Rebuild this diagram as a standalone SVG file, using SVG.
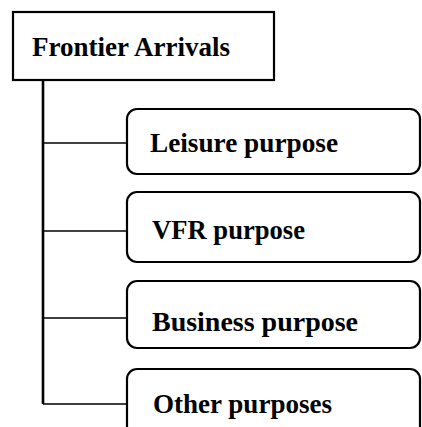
<svg xmlns="http://www.w3.org/2000/svg" width="422" height="427" viewBox="0 0 422 427">
  <style>
    .box { fill: #ffffff; stroke: #000000; stroke-width: 2.2; }
    .label { font-family: "Liberation Serif", "Times New Roman", serif; font-weight: bold; font-size: 27.5px; fill: #000000; }
    .link { stroke: #000000; stroke-width: 1.6; fill: none; }
    .trunk { stroke: #000000; stroke-width: 2.6; fill: none; }
  </style>
  <rect width="422" height="427" fill="#ffffff"/>

  <!-- tree connectors: trunk from the root box and one branch per purpose -->
  <g id="connectors">
    <line class="trunk" x1="43" y1="80" x2="43" y2="404"/>
    <line class="link" x1="43" y1="143" x2="127" y2="143"/>
    <line class="link" x1="43" y1="231" x2="127" y2="231"/>
    <line class="link" x1="43" y1="318" x2="127" y2="318"/>
    <line class="link" x1="43" y1="404" x2="127" y2="404"/>
  </g>

  <g id="frontier-arrivals">
    <rect class="box" x="13" y="12" width="261" height="68"/>
    <text class="label" x="32" y="56" textLength="198" lengthAdjust="spacingAndGlyphs">Frontier Arrivals</text>
  </g>

  <g id="leisure-purpose">
    <rect class="box" x="127" y="109" width="293" height="65" rx="10" ry="10"/>
    <text class="label" x="150" y="152" textLength="188" lengthAdjust="spacingAndGlyphs">Leisure purpose</text>
  </g>

  <g id="vfr-purpose">
    <rect class="box" x="127" y="192" width="293" height="70" rx="10" ry="10"/>
    <text class="label" x="152" y="239" textLength="153" lengthAdjust="spacingAndGlyphs">VFR purpose</text>
  </g>

  <g id="business-purpose">
    <rect class="box" x="127" y="281" width="293" height="67" rx="10" ry="10"/>
    <text class="label" x="152" y="331" textLength="206" lengthAdjust="spacingAndGlyphs">Business purpose</text>
  </g>

  <g id="other-purposes">
    <rect class="box" x="127" y="369" width="293" height="80" rx="10" ry="10"/>
    <text class="label" x="153" y="413" textLength="179" lengthAdjust="spacingAndGlyphs">Other purposes</text>
  </g>
</svg>
